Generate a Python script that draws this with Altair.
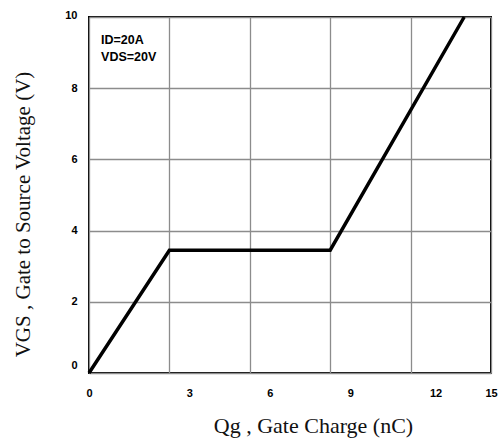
import altair as alt
import pandas as pd

# Data
qg = [0, 3.0, 9.0, 14.0]
vgs = [0, 3.45, 3.45, 10.0]

x_ticks = [0, 3, 6, 9, 12, 15]
y_ticks = [0, 2, 4, 6, 8, 10]

notes = ["ID=20A", "VDS=20V"]
note_x = [0.45, 0.45]
note_y = [9.35, 8.87]

df = pd.DataFrame({"qg": qg, "vgs": vgs})
notes_df = pd.DataFrame({"t": notes, "x": note_x, "y": note_y})

x_scale = alt.Scale(domain=[0, 15], nice=False, zero=False)
y_scale = alt.Scale(domain=[0, 10], nice=False, zero=False)

x_axis = alt.Axis(
    values=x_ticks,
    title="Qg , Gate Charge (nC)",
    titleFont="Liberation Serif",
    titleFontSize=22,
    titleFontWeight="normal",
    titleColor="#111111",
    titleX=224,
    titleY=52,
    titleAlign="center",
    titleBaseline="middle",
    labelFont="Liberation Sans",
    labelFontSize=11,
    labelFontWeight="bold",
    labelColor="#000000",
    labelPadding=14,
    labelOffset={"condition": [
        {"test": "datum.value == 0 || datum.value == 15", "value": 0},
        {"test": "datum.value == 12", "value": 25},
    ], "value": 20},
    labelFlush=False,
    ticks=False,
    domain=False,
    grid=True,
    gridColor="#8c8c8c",
    gridWidth=1.3,
)

y_axis = alt.Axis(
    values=y_ticks,
    title="VGS , Gate to Source Voltage (V)",
    titleFont="Liberation Serif",
    titleFontSize=21,
    titleFontWeight="normal",
    titleColor="#111111",
    titleX=-66,
    titleY=197,
    titleAlign="center",
    titleBaseline="middle",
    titleAngle=270,
    labelFont="Liberation Sans",
    labelFontSize=11,
    labelFontWeight="bold",
    labelColor="#000000",
    labelPadding=12,
    labelOffset={"condition": [
        {"test": "datum.value == 0", "value": -8},
        {"test": "datum.value == 10", "value": -2},
    ], "value": 0},
    labelFlush=False,
    ticks=False,
    domain=False,
    grid=True,
    gridColor="#8c8c8c",
    gridWidth=1.3,
)

line = alt.Chart(df).mark_line(color="#000000", strokeWidth=3.5, strokeJoin="miter").encode(
    x=alt.X("qg:Q", scale=x_scale, axis=x_axis),
    y=alt.Y("vgs:Q", scale=y_scale, axis=y_axis),
    order="qg:Q",
)

text = alt.Chart(notes_df).mark_text(
    align="left", baseline="middle", font="Liberation Sans", fontSize=12.5,
    fontWeight="bold", color="#000000"
).encode(
    x=alt.X("x:Q", scale=x_scale),
    y=alt.Y("y:Q", scale=y_scale),
    text="t:N",
)

chart = (line + text).properties(
    width=402,
    height=356,
    autosize=alt.AutoSizeParams(type="none"),
    padding={"left": 89, "top": 17, "right": 12, "bottom": 65},
    background="#ffffff",
).configure_view(stroke="#000000", strokeWidth=2)

chart.save("out.html", embed_options={"renderer": "svg", "actions": False})
